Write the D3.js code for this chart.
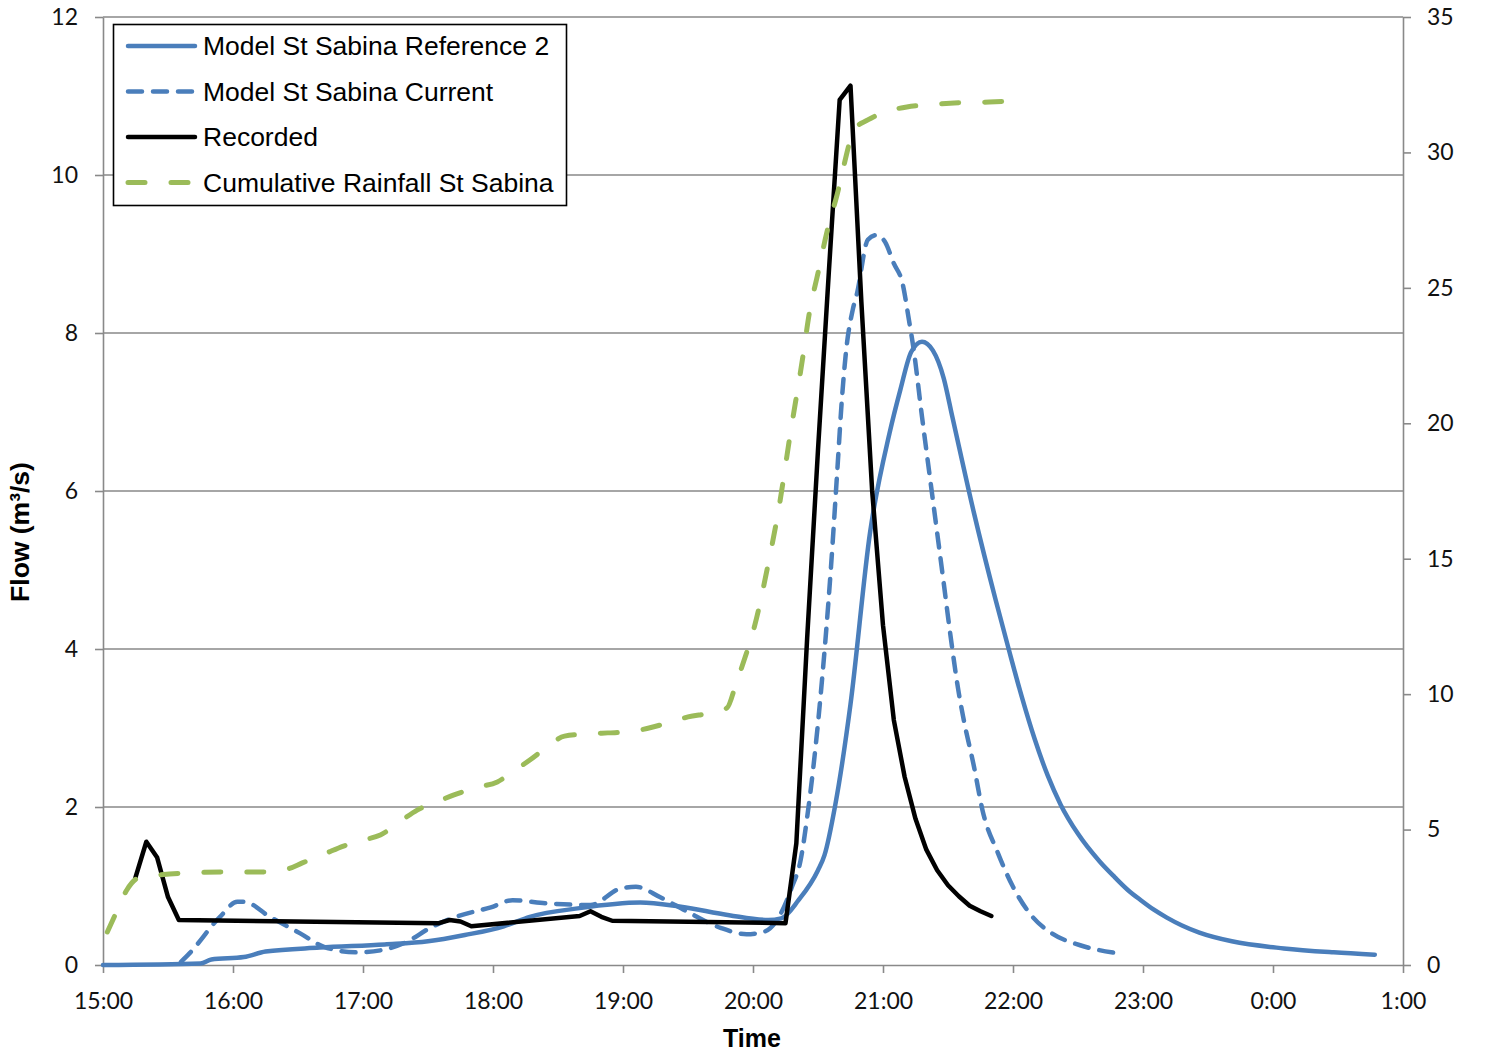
<!DOCTYPE html>
<html>
<head>
<meta charset="utf-8">
<script src="https://cdn.jsdelivr.net/npm/d3@7"></script>
<style>
  body { margin: 0; background: #fff; }
  svg { display: block; }
</style>
</head>
<body>
<svg id="chart" width="1500" height="1053"></svg>
<script>
// ---- Data -------------------------------------------------------------
// Times are clock times on the evening of the event; hours before noon
// belong to the following day.
const xTickLabels = ["15:00","16:00","17:00","18:00","19:00","20:00","21:00","22:00","23:00","0:00","1:00"];
const flowTicks = [0, 2, 4, 6, 8, 10, 12];
const rainTicks = [0, 5, 10, 15, 20, 25, 30, 35];

const seriesNames = [
  "Model St Sabina Reference 2",
  "Model St Sabina Current",
  "Recorded",
  "Cumulative Rainfall St Sabina"
];

// Model St Sabina Reference 2 (flow, m3/s)
const ref2Time = ["15:00","15:45","15:50","16:05","16:15","16:40","17:10","17:30","17:47","18:05","18:17","18:40","19:08","19:26","19:49","20:07","20:13","20:21","20:30","20:33","20:38","20:45","20:54","21:03","21:08","21:13","21:18","21:23","21:28","21:32","21:42","21:52","21:58","22:04","22:10","22:16","22:22","22:30","22:40","22:47","22:53","22:59","23:05","23:11","23:18","23:26","23:41","00:05","00:28","00:47"];
const ref2Flow = [0.00,0.02,0.07,0.10,0.17,0.22,0.26,0.30,0.38,0.49,0.61,0.72,0.79,0.74,0.63,0.57,0.59,0.82,1.20,1.39,2.03,3.30,5.47,6.73,7.28,7.76,7.89,7.78,7.43,6.94,5.72,4.62,4.00,3.40,2.86,2.40,2.03,1.66,1.31,1.11,0.95,0.82,0.70,0.60,0.50,0.41,0.30,0.21,0.16,0.13];

// Model St Sabina Current (flow, m3/s)
const currentTime = ["15:36","15:40","15:54","16:02","16:05","16:17","16:31","16:42","16:57","17:09","17:20","17:31","17:43","17:59","18:09","18:25","18:45","18:59","19:06","19:17","19:30","19:45","19:57","20:05","20:12","20:18","20:22","20:25","20:31","20:36","20:39","20:41","20:43","20:46","20:48","20:53","20:57","21:01","21:05","21:09","21:12","21:14","21:18","21:22","21:25","21:28","21:31","21:35","21:37","21:42","21:46","21:53","22:00","22:09","22:18","22:31","22:48"];
const currentFlow = [0.04,0.15,0.61,0.80,0.80,0.61,0.40,0.23,0.16,0.19,0.29,0.47,0.61,0.73,0.82,0.78,0.76,0.97,0.99,0.86,0.67,0.47,0.39,0.42,0.61,0.99,1.33,1.87,3.35,5.04,6.30,7.15,7.78,8.29,8.50,9.18,9.24,9.15,8.88,8.63,8.16,7.82,6.94,6.10,5.47,4.84,4.20,3.44,3.14,2.51,1.95,1.42,0.99,0.61,0.40,0.25,0.15];

// Recorded (flow, m3/s)
const recordedTime = ["15:15","15:20","15:25","15:30","15:35","17:35","17:40","17:45","17:50","18:40","18:45","18:50","18:55","20:15","20:20","20:25","20:30","20:35","20:40","20:45","20:50","20:55","21:00","21:05","21:10","21:15","21:20","21:25","21:30","21:35","21:40","21:45","21:50"];
const recordedFlow = [1.11,1.56,1.36,0.86,0.57,0.53,0.57,0.55,0.49,0.62,0.68,0.61,0.56,0.53,1.54,4.14,6.52,8.77,10.95,11.13,8.40,6.00,4.30,3.10,2.38,1.85,1.46,1.20,1.01,0.87,0.75,0.68,0.62];

// Cumulative Rainfall St Sabina (mm, secondary axis)
const rainTime = ["15:02","15:06","15:11","15:16","15:25","15:55","16:14","16:25","16:32","16:43","16:51","17:00","17:08","17:18","17:25","17:34","17:42","17:53","18:02","18:09","18:17","18:25","18:33","18:43","18:53","19:02","19:12","19:22","19:30","19:40","19:48","19:52","19:55","20:01","20:07","20:12","20:17","20:23","20:26","20:30","20:34","20:39","20:44","20:46","20:53","21:01","21:11","21:20","21:31","21:49","22:00"];
const rainMm = [1.22,1.92,2.77,3.20,3.32,3.43,3.43,3.54,3.77,4.13,4.39,4.61,4.80,5.35,5.72,6.02,6.28,6.57,6.76,7.13,7.57,8.05,8.45,8.53,8.57,8.60,8.75,8.97,9.16,9.30,9.49,10.34,11.04,12.60,14.80,16.90,19.50,22.45,24.07,25.55,27.02,28.50,30.20,30.80,31.20,31.49,31.68,31.75,31.82,31.86,31.90];

// ---- Helpers ------------------------------------------------------------
function clock(s) {
  const [h, m] = s.split(":").map(Number);
  return new Date(2000, 0, h < 12 ? 2 : 1, h, m);
}
function zip(times, values) {
  return times.map((t, i) => ({ t: clock(t), v: values[i] }));
}

// ---- Layout -------------------------------------------------------------
const plot = { left: 103, right: 1403, top: 17, bottom: 965 };
const gridColor = "#898989";
const tickFont = "Lato, 'Open Sans', sans-serif";
const textFont = "'Liberation Sans', Arial, sans-serif";

const svg = d3.select("#chart");

const x = d3.scaleTime()
  .domain([clock(xTickLabels[0]), clock(xTickLabels[xTickLabels.length - 1])])
  .range([plot.left, plot.right]);
const yFlow = d3.scaleLinear().domain([0, 12]).range([plot.bottom, plot.top]);
const yRain = d3.scaleLinear().domain([0, 35]).range([plot.bottom, plot.top]);

// Horizontal gridlines
svg.append("g")
  .selectAll("line")
  .data(flowTicks.filter(d => d > 0))
  .join("line")
  .attr("x1", plot.left).attr("x2", plot.right)
  .attr("y1", d => yFlow(d)).attr("y2", d => yFlow(d))
  .attr("stroke", gridColor).attr("stroke-width", 1.6);

// Axes
function styleAxis(g) {
  g.select(".domain").attr("stroke", gridColor).attr("stroke-width", 1.6);
  g.selectAll(".tick line").attr("stroke", gridColor).attr("stroke-width", 1.6);
  g.selectAll(".tick text")
    .attr("fill", "#111")
    .style("font-family", tickFont)
    .style("font-size", "23px");
}

svg.append("g")
  .attr("transform", `translate(${plot.left},0)`)
  .call(d3.axisLeft(yFlow).tickValues(flowTicks).tickSize(8).tickSizeOuter(0).tickPadding(17))
  .call(styleAxis);

svg.append("g")
  .attr("transform", `translate(${plot.right},0)`)
  .call(d3.axisRight(yRain).tickValues(rainTicks).tickSize(8).tickSizeOuter(0).tickPadding(16))
  .call(styleAxis);

svg.append("g")
  .attr("transform", `translate(0,${plot.bottom})`)
  .call(d3.axisBottom(x)
    .tickValues(xTickLabels.map(clock))
    .tickFormat((d, i) => xTickLabels[i])
    .tickSize(8).tickSizeOuter(0).tickPadding(20))
  .call(styleAxis);

// Axis titles
svg.append("text")
  .attr("x", (plot.left + plot.right) / 2 - 1)
  .attr("y", 1047)
  .attr("text-anchor", "middle")
  .style("font-family", textFont)
  .style("font-weight", "bold")
  .style("font-size", "25px")
  .text("Time");

svg.append("text")
  .attr("transform", `translate(29,${(plot.top + plot.bottom) / 2 + 41}) rotate(-90)`)
  .attr("text-anchor", "middle")
  .style("font-family", textFont)
  .style("font-weight", "bold")
  .style("font-size", "26.5px")
  .text("Flow (m³/s)");

// ---- Series ------------------------------------------------------------
const styles = [
  { color: "#4A7EBB", dash: null,    width: 4.5 },
  { color: "#4A7EBB", dash: "14,11", width: 4.5 },
  { color: "#000000", dash: null,    width: 4.5 },
  { color: "#9BBB59", dash: "17,26", width: 5 }
];

const flowLine = d3.line().x(d => x(d.t)).y(d => yFlow(d.v)).curve(d3.curveMonotoneX);
const recordedLine = d3.line().x(d => x(d.t)).y(d => yFlow(d.v));
const rainLine = d3.line().x(d => x(d.t)).y(d => yRain(d.v)).curve(d3.curveMonotoneX);

const series = [
  { path: flowLine(zip(ref2Time, ref2Flow)), s: styles[0] },
  { path: flowLine(zip(currentTime, currentFlow)), s: styles[1] },
  { path: recordedLine(zip(recordedTime, recordedFlow)), s: styles[2] },
  { path: rainLine(zip(rainTime, rainMm)), s: styles[3] }
];

svg.append("g")
  .selectAll("path")
  .data(series)
  .join("path")
  .attr("d", d => d.path)
  .attr("fill", "none")
  .attr("stroke", d => d.s.color)
  .attr("stroke-width", d => d.s.width)
  .attr("stroke-dasharray", d => d.s.dash)
  .attr("stroke-linecap", "round")
  .attr("stroke-linejoin", "round");

// ---- Legend ------------------------------------------------------------
const legend = svg.append("g");
legend.append("rect")
  .attr("x", 113.5).attr("y", 24.5)
  .attr("width", 453).attr("height", 181)
  .attr("fill", "#fff")
  .attr("stroke", "#000").attr("stroke-width", 1.6);

const rows = legend.selectAll("g.row")
  .data(seriesNames)
  .join("g")
  .attr("class", "row")
  .attr("transform", (d, i) => `translate(0,${46 + i * 45.5})`);

rows.append("line")
  .attr("x1", 128).attr("x2", 195)
  .attr("y1", 0).attr("y2", 0)
  .attr("stroke", (d, i) => styles[i].color)
  .attr("stroke-width", (d, i) => styles[i].width)
  .attr("stroke-dasharray", (d, i) => styles[i].dash)
  .attr("stroke-linecap", "round");

rows.append("text")
  .attr("x", 203)
  .attr("y", 0)
  .attr("dy", "0.35em")
  .style("font-family", textFont)
  .style("font-size", "26.5px")
  .attr("fill", "#000")
  .text(d => d);
</script>
</body>
</html>
